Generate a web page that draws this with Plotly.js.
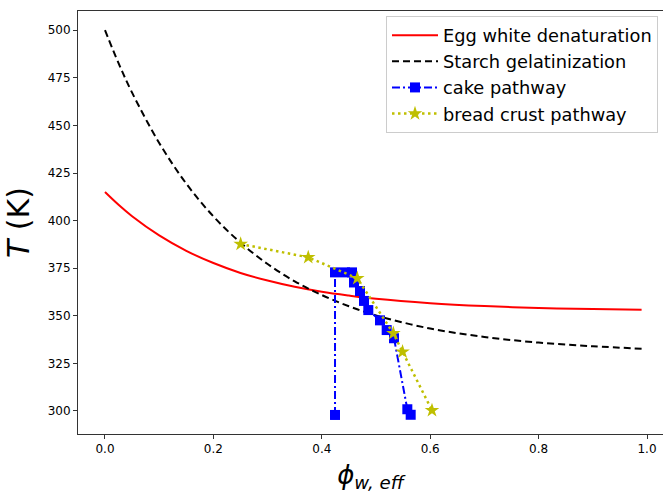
<!DOCTYPE html>
<html><head><meta charset="utf-8">
<script src="https://cdn.plot.ly/plotly-3.0.1.min.js"></script>
<style>html,body{margin:0;padding:0;background:#fff;overflow:hidden}</style>
</head><body><div id="chart" style="width:663px;height:493px"></div>
<script>
// Theoretical curves
const phiCurve = [0, 0.025, 0.05, 0.1, 0.15, 0.2, 0.25, 0.3, 0.35, 0.4, 0.45, 0.5, 0.6, 0.7, 0.8, 0.9, 0.99];
const eggT     = [415.0, 408.3, 402.3, 392.2, 384.1, 377.7, 372.5, 368.5, 365.2, 362.6, 360.6, 358.9, 356.6, 355.1, 354.1, 353.5, 353.2];
const starchT  = [500.0, 482.7, 467.2, 440.8, 419.4, 402.2, 388.4, 377.2, 368.1, 360.9, 355.0, 350.2, 343.3, 338.9, 335.9, 334.0, 332.7];

// Cake pathway
const cakePhi = [0.4244, 0.4244, 0.4428, 0.4557, 0.4594, 0.4705, 0.4779, 0.4858, 0.5074, 0.5197, 0.5332, 0.5578, 0.5640];
const cakeT   = [297.9, 372.8, 372.8, 372.8, 367.5, 363.0, 357.8, 353.0, 347.6, 342.5, 338.2, 300.9, 298.0];

// Bread crust pathway
const breadPhi = [0.2503, 0.375, 0.4655, 0.532, 0.549, 0.6033];
const breadT   = [387.7, 380.7, 369.7, 340.8, 331.1, 300.3];

// Ticks
const xTickVals = [0, 0.2, 0.4, 0.6, 0.8, 1.0];
const xTickText = ["0.0", "0.2", "0.4", "0.6", "0.8", "1.0"];
const yTickVals = [300, 325, 350, 375, 400, 425, 450, 475, 500];
const yTickText = ["300", "325", "350", "375", "400", "425", "450", "475", "500"];

const names = ["Egg white denaturation", "Starch gelatinization", "cake pathway", "bread crust pathway"];

const FONT = "DejaVu Sans, Verdana, sans-serif";

const traces = [
  {x: phiCurve, y: eggT, name: names[0], mode: "lines", legendgroup: "a",
   line: {color: "#ff0000", width: 2, shape: "spline", smoothing: 1}},
  {x: phiCurve, y: starchT, name: names[1], mode: "lines", legendgroup: "b",
   line: {color: "#000000", width: 2, dash: "7px,4px", shape: "spline", smoothing: 1}},
  {x: cakePhi, y: cakeT, name: names[2], mode: "lines+markers", legendgroup: "c",
   line: {color: "#0000ff", width: 2, dash: "8px,3px,2px,3px"},
   marker: {symbol: "square", size: 10, color: "#0000ff"}},
  {x: breadPhi, y: breadT, name: names[3], mode: "lines+markers", legendgroup: "d",
   line: {color: "#bfbf00", width: 2.5, dash: "2.5px,3.5px"},
   marker: {symbol: "star", size: 11, color: "#bfbf00"}}
];

const layout = {
  width: 663, height: 493,
  margin: {l: 78, r: 0, t: 11, b: 59},
  paper_bgcolor: "#ffffff", plot_bgcolor: "#ffffff",
  font: {family: FONT, color: "#000000"},
  showlegend: true,
  legend: {
    x: 0.5265, y: 0.988, xanchor: "left", yanchor: "top",
    bgcolor: "rgba(255,255,255,0.8)", bordercolor: "#cccccc", borderwidth: 1,
    font: {family: FONT, size: 17.8, color: "#000000"},
    traceorder: "grouped", tracegroupgap: 0, itemwidth: 46
  },
  xaxis: {
    range: [-0.0498, 1.0295], tickvals: xTickVals, ticktext: xTickText,
    showgrid: false, zeroline: false,
    showline: true, linecolor: "#333333", linewidth: 1, mirror: true,
    ticks: "outside", ticklen: 4, tickcolor: "#333333", tickwidth: 1,
    tickfont: {family: FONT, size: 12, color: "#000000"},
    title: {text: "<i>ϕ</i><sub><i>w, eff</i></sub>", font: {family: FONT, size: 26}, standoff: 10}
  },
  yaxis: {
    range: [287.9, 510.1], tickvals: yTickVals, ticktext: yTickText,
    showgrid: false, zeroline: false,
    showline: true, linecolor: "#333333", linewidth: 1,
    ticks: "outside", ticklen: 4, tickcolor: "#333333", tickwidth: 1,
    tickfont: {family: FONT, size: 12, color: "#000000"},
    title: {text: "<i>T</i> (K)", font: {family: FONT, size: 30}, standoff: 9}
  }
};

Plotly.newPlot("chart", traces, layout, {staticPlot: true, displayModeBar: false});
</script>
</body></html>
